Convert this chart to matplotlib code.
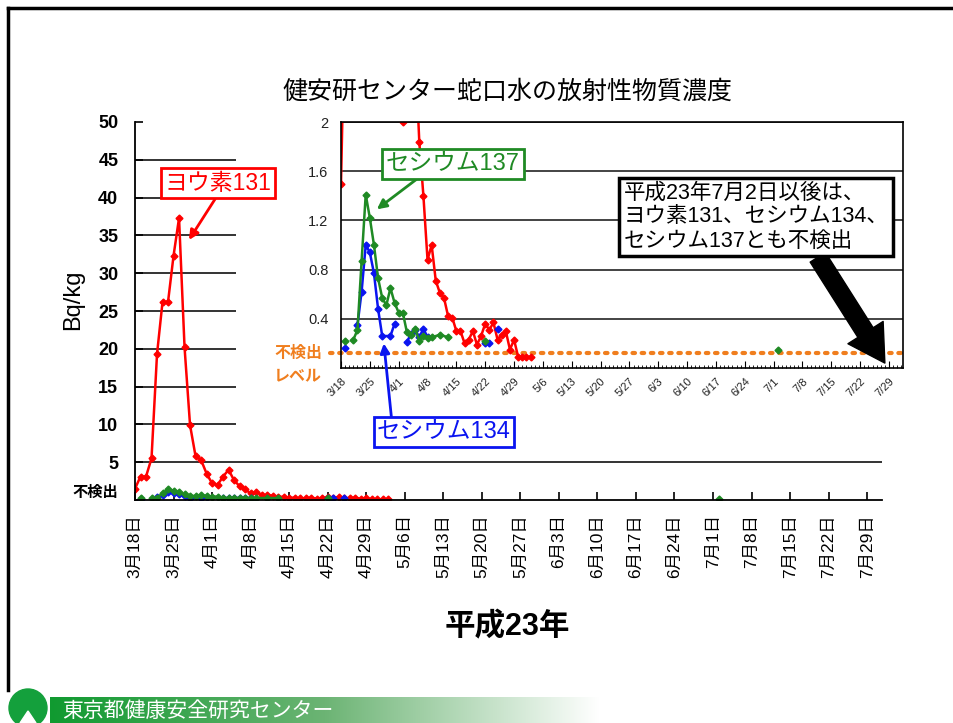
import numpy as np
import matplotlib
matplotlib.use('Agg')
import matplotlib.pyplot as plt
from matplotlib.patches import Circle, Polygon
from matplotlib.colors import LinearSegmentedColormap

plt.rcParams['font.family'] = ['Liberation Sans', 'Noto Sans CJK JP']

W, H = 954, 723
nan = np.nan

# days counted from 3/18 (day 0)
i131_days = [0, 1, 2, 3, 4, 5, 6, 7, 8, 9, 10, 11, 12, 13, 14, 15, 16, 17, 18, 19, 20, 21, 22, 23,
             24, 25, 26, 27, 28, 29, 30, 31, 32, 33, 34, 35, 36, 37, 38, 39, 40, 41, 42, 43, 44, 45, 46]
i131_vals = [1.5, 3.1, 3.1, 5.5, 19.3, 26.2, 26.2, 32.3, 37.3, 20.2, 9.9, 5.8, 5.3, 3.5, 2.2, 2.0,
             3.1, 4.0, 2.6, 1.84, 1.4, 0.88, 1.0, 0.71, 0.61, 0.57, 0.42, 0.41, 0.30, 0.30, 0.20,
             0.23, 0.30, 0.19, 0.26, 0.36, 0.31, 0.37, 0.23, 0.27, 0.30, 0.15, 0.23, 0.09, 0.09,
             0.09, 0.09]

cs137_days = [1, 2, 3, 4, 5, 6, 7, 8, 9, 10, 11, 12, 13, 14, 15, 16, 17, 18, 19, 20, 21, 22,
              24, 26, 30, 35, 50, 106]
cs137_vals = [0.22, nan, 0.23, 0.31, 0.87, 1.41, 1.22, 1.0, 0.73, 0.57, 0.51, 0.65, 0.53, 0.45,
              0.45, 0.29, 0.27, 0.32, 0.22, 0.26, 0.24, 0.25, 0.27, 0.25, nan, 0.22, nan, 0.15]

cs134_days = [1, 2, 4, 5, 6, 7, 8, 9, 10, 12, 13, 14, 16, 17, 18, 19, 20, 21, 30, 35, 36, 37, 38]
cs134_vals = [0.16, nan, 0.35, 0.62, 1.0, 0.94, 0.77, 0.48, 0.26, 0.26, 0.36, nan, 0.21, 0.28,
              0.31, 0.25, 0.32, 0.25, nan, 0.20, 0.20, nan, 0.32]

tick_days = [0, 7, 14, 21, 28, 35, 42, 49, 56, 63, 70, 77, 84, 91, 98, 105, 112, 119, 126, 133]
main_xlabels = ['3月18日', '3月25日', '4月1日', '4月8日', '4月15日', '4月22日', '4月29日',
                '5月6日', '5月13日', '5月20日', '5月27日', '6月3日', '6月10日', '6月17日',
                '6月24日', '7月1日', '7月8日', '7月15日', '7月22日', '7月29日']
inset_xlabels = ['3/18', '3/25', '4/1', '4/8', '4/15', '4/22', '4/29', '5/6', '5/13', '5/20',
                 '5/27', '6/3', '6/10', '6/17', '6/24', '7/1', '7/8', '7/15', '7/22', '7/29']
main_yticks = [0, 5, 10, 15, 20, 25, 30, 35, 40, 45, 50]
main_ylabels = ['不検出', '5', '10', '15', '20', '25', '30', '35', '40', '45', '50']
inset_yticks = [0.4, 0.8, 1.2, 1.6, 2.0]
inset_ylabels = ['0.4', '0.8', '1.2', '1.6', '2']
nd_level = 0.125

RED, GREEN, BLUE, ORANGE = '#ff0000', '#1f8a24', '#0a14f0', '#f07e1e'


def frac(x0, y0, x1, y1):
    return [x0 / W, 1 - y1 / H, (x1 - x0) / W, (y1 - y0) / H]


def figpx(x, y):
    return (x, H - y)


fig = plt.figure(figsize=(W / 100, H / 100), dpi=100)

# slide decoration (border, footer)
deco = fig.add_axes([0, 0, 1, 1], zorder=-1)
grad = np.linspace(0, 1, 256).reshape(1, -1)
cmap = LinearSegmentedColormap.from_list('foot', ['#109a30', '#6cb474', '#ffffff'])
deco.imshow(grad, extent=(50, 600, 723, 697), aspect='auto', cmap=cmap)
deco.plot([8, 954], [8, 8], color='black', lw=2.5)
deco.plot([8, 8], [8, 690], color='black', lw=2.5)
deco.add_patch(Circle((28, 708), 19, color='#14a03c'))
deco.add_patch(Polygon([[28, 711], [20, 723], [36, 723]], color='white'))
deco.text(62, 711, '東京都健康安全研究センター', color='white', fontsize=15,
          va='center', family='Noto Sans CJK JP')
deco.set_xlim(0, W)
deco.set_ylim(H, 0)
deco.axis('off')

# main chart
ax = fig.add_axes(frac(135, 122, 882, 500))
ax.plot(i131_days, i131_vals, color=RED, lw=1.8, marker='D', ms=3.5)
ax.plot(cs134_days, cs134_vals, color=BLUE, lw=1.8, marker='D', ms=3.5)
ax.plot(cs137_days, cs137_vals, color=GREEN, lw=1.8, marker='D', ms=3.5)
ax.set_xlim(0, 135.7)
ax.set_ylim(0, 50)
ax.set_yticks(main_yticks, main_ylabels, fontsize=13, fontweight='bold')
ax.set_xticks(tick_days, main_xlabels, rotation=90, fontsize=12.5)
ax.tick_params(axis='y', direction='in', length=6, pad=12, width=1.2)
ax.tick_params(axis='x', direction='in', length=6, pad=10, width=1.2)
lbl0 = ax.get_yticklabels()[0]
lbl0.set_fontsize(11)
lbl0.set_va('bottom')
ax.grid(axis='y', color='#111111', lw=1.2)
gl = ax.get_ygridlines()
gl[0].set_visible(False)
gl[-1].set_visible(False)
for s in ['top', 'right']:
    ax.spines[s].set_visible(False)
for s in ['left', 'bottom']:
    ax.spines[s].set_linewidth(1.3)

fig.text(73 / W, 1 - 300 / H, 'Bq/kg', rotation=90, fontsize=17, ha='center', va='center')
fig.text(507 / W, 1 - 92 / H, '健安研センター蛇口水の放射性物質濃度', fontsize=18,
         ha='center', va='center', family='Noto Sans CJK JP')
fig.text(507 / W, 1 - 627 / H, '平成23年', fontsize=22, fontweight='bold',
         ha='center', va='center')

# white chart area for the inset
bg = fig.add_axes(frac(236, 114, 912, 456))
bg.axis('off')
bg.add_patch(plt.Rectangle((0, 0), 1, 1, transform=bg.transAxes, color='white'))

# inset chart
ai = fig.add_axes(frac(341, 122, 903, 368))
ai.plot(i131_days, i131_vals, color=RED, lw=1.8, marker='D', ms=3.5)
ai.plot(cs134_days, cs134_vals, color=BLUE, lw=1.8, marker='D', ms=3.5)
ai.plot(cs137_days, cs137_vals, color=GREEN, lw=1.8, marker='D', ms=3.5)
ai.set_xlim(0, 136.4)
ai.set_ylim(0, 2)
ai.set_yticks(inset_yticks, inset_ylabels, fontsize=10.5, color='#222222')
ai.set_xticks(tick_days, inset_xlabels, rotation=45, ha='right', rotation_mode='anchor',
              fontsize=8, color='#222222')
ai.set_xticks(range(0, 137), minor=True)
ai.tick_params(axis='y', length=0, pad=9)
ai.tick_params(axis='x', which='major', direction='in', length=5, pad=6)
ai.tick_params(axis='x', which='minor', direction='in', length=2.5)
ai.grid(axis='y', color='#111111', lw=1.1)
for s in ai.spines.values():
    s.set_linewidth(1.2)
ai.axhline(nd_level, xmin=-0.02, xmax=1, color=ORANGE, lw=3, ls=(0, (0.6, 1.6)),
           dash_capstyle='round', clip_on=False, zorder=1)
fig.text(298 / W, 1 - 353 / H, '不検出', color=ORANGE, fontsize=11.5, fontweight='bold',
         ha='center', va='center')
fig.text(298 / W, 1 - 376 / H, 'レベル', color=ORANGE, fontsize=11.5, fontweight='bold',
         ha='center', va='center')

# annotations
ai.annotate('ヨウ素131', xy=(9.8, 34.4), xycoords=ax.transData,
            xytext=figpx(218, 183), textcoords='figure pixels', ha='center', va='center',
            color=RED, fontsize=16.5,
            bbox=dict(boxstyle='square,pad=0.15', fc='white', ec=RED, lw=2),
            arrowprops=dict(arrowstyle='-|>', color=RED, lw=2, relpos=(0.5, 0),
                            shrinkA=0, shrinkB=0, mutation_scale=14),
            annotation_clip=False)
ai.annotate('セシウム137', xy=(8.7, 1.29), xytext=figpx(453, 164), textcoords='figure pixels',
            ha='center', va='center', color=GREEN, fontsize=17,
            bbox=dict(boxstyle='square,pad=0.15', fc='white', ec=GREEN, lw=2),
            arrowprops=dict(arrowstyle='-|>', color=GREEN, lw=2, relpos=(0.27, 0),
                            shrinkA=0, shrinkB=0, mutation_scale=14),
            annotation_clip=False)
ai.annotate('セシウム134', xy=(10.4, 0.2), xytext=figpx(444, 432), textcoords='figure pixels',
            ha='center', va='center', color=BLUE, fontsize=17,
            bbox=dict(boxstyle='square,pad=0.15', fc='white', ec=BLUE, lw=2),
            arrowprops=dict(arrowstyle='-|>', color=BLUE, lw=2, relpos=(0.11, 1),
                            shrinkA=0, shrinkB=0, mutation_scale=14),
            annotation_clip=False)
ai.annotate('平成23年7月2日以後は、\nヨウ素131、セシウム134、\nセシウム137とも不検出',
            xy=(132, 0.04), xytext=figpx(756, 217), textcoords='figure pixels',
            ha='center', va='center', multialignment='left', fontsize=15.5, linespacing=1.2,
            bbox=dict(boxstyle='square,pad=0.2', fc='white', ec='black', lw=2.5),
            arrowprops=dict(arrowstyle='simple,head_length=1.3,head_width=1.5,tail_width=0.65',
                            fc='black', ec='black', relpos=(0.72, 0),
                            shrinkA=0, shrinkB=0, mutation_scale=20),
            annotation_clip=False)

fig.savefig('out.png', dpi=100)
